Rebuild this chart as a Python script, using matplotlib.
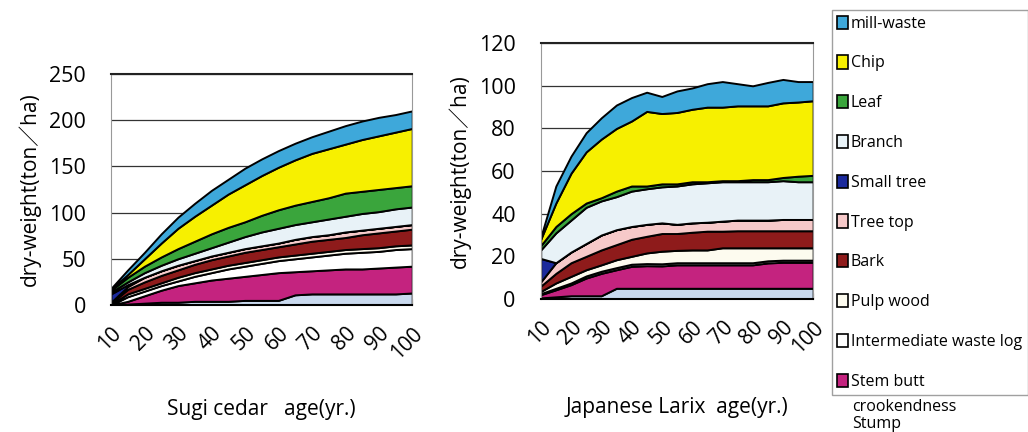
import numpy as np
import matplotlib
matplotlib.use('Agg')
import matplotlib.pyplot as plt
from matplotlib.patches import Patch

plt.rcParams['font.family'] = ['Open Sans', 'Noto Sans CJK JP', 'DejaVu Sans']

ages = [10, 15, 20, 25, 30, 35, 40, 45, 50, 55, 60, 65, 70, 75, 80, 85, 90, 95, 100]
age_ticks = [10, 20, 30, 40, 50, 60, 70, 80, 90, 100]

# layers, bottom -> top
names = ['Stump', 'Stem butt', 'Intermediate waste log', 'Pulp wood', 'Bark',
         'Tree top', 'Small tree', 'Branch', 'Leaf', 'Chip', 'mill-waste']
colors = ['#c9d9ee', '#c4237f', '#ffffff', '#fdfbef', '#8e1b1b',
          '#f6c9c9', '#1b2a9c', '#e8f2f7', '#3aa53c', '#f7f000', '#3ea8da']

# Sugi cedar (ton/ha)
sugi_stump = [0, 1, 2, 3, 3, 4, 4, 4, 5, 5, 5, 11, 12, 12, 12, 12, 12, 12, 13]
sugi_stem_butt = [0, 3, 8, 13, 18, 20, 23, 25, 26, 28, 30, 25, 25, 26, 27, 27, 28, 29, 29]
sugi_interm = [0, 5, 5, 5, 5, 7, 8, 10, 11, 12, 13, 14, 15, 16, 17, 18, 18, 19, 19]
sugi_pulp = [1, 3, 3, 3, 4, 4, 4, 4, 4, 4, 4, 4, 4, 4, 4, 4, 4, 4, 4]
sugi_bark = [1, 5, 7, 8, 8, 9, 10, 10, 11, 11, 11, 12, 13, 13, 13, 15, 16, 16, 17]
sugi_tree_top = [1, 3, 5, 5, 5, 4, 4, 4, 4, 4, 4, 5, 5, 5, 6, 5, 5, 5, 5]
sugi_small = [9, 2, 0, 0, 0, 0, 0, 0, 0, 0, 0, 0, 0, 0, 0, 0, 0, 0, 0]
sugi_branch = [2, 3, 5, 6, 7, 8, 9, 11, 13, 15, 16, 16, 16, 17, 17, 18, 18, 19, 19]
sugi_leaf = [2, 5, 7, 9, 11, 13, 15, 16, 16, 18, 20, 21, 22, 23, 25, 24, 24, 23, 23]
sugi_chip = [1, 3, 8, 15, 22, 27, 31, 36, 40, 43, 46, 49, 52, 53, 53, 56, 58, 60, 62]
sugi_mill = [1, 5, 7, 10, 12, 14, 16, 16, 18, 18, 18, 18, 18, 19, 20, 20, 20, 19, 19]

# Japanese larix (ton/ha)
lar_stump = [0.5, 1, 1.5, 1.5, 1.5, 5, 5, 5, 5, 5, 5, 5, 5, 5, 5, 5, 5, 5, 5]
lar_stem_butt = [1.5, 3.3, 5.2, 8.3, 10.5, 8.7, 10.3, 10.6, 10.5, 11, 11, 11, 11, 11, 11, 11.9, 12.2, 12.2, 12.2]
lar_interm = [0.5, 0.7, 0.8, 1, 1, 1, 1, 1, 1, 1, 1, 1, 1, 1, 1, 1, 1, 1, 1]
lar_pulp = [1, 2.5, 3.1, 2.9, 3, 3.7, 3.7, 5, 5.9, 5.8, 6, 6, 7, 7, 7, 6.1, 5.8, 5.8, 5.8]
lar_bark = [2.5, 4.5, 6.4, 6.3, 7, 7.1, 8, 7.8, 8.3, 7.9, 8.3, 8.8, 7.8, 8, 8, 8, 8, 8, 8]
lar_tree_top = [2, 5, 5, 6, 7, 7, 6, 5.6, 5, 4.3, 4.4, 4.2, 4.7, 5, 5, 5, 5.3, 5.3, 5.3]
lar_small = [11, 0, 0, 0, 0, 0, 0, 0, 0, 0, 0, 0, 0, 0, 0, 0, 0, 0, 0]
lar_branch = [4, 14, 15, 17, 16, 15.5, 16.6, 16.7, 16.9, 18, 18.3, 18.5, 18.5, 18, 18, 18, 18.2, 17.7, 17.7]
lar_leaf = [2, 3, 3, 2, 1.5, 2.6, 2.4, 1.3, 1.4, 1, 1, 0.5, 0.5, 0.5, 1, 1, 1.5, 2.6, 3]
lar_chip = [3, 11, 19, 24, 27.5, 29.4, 30.5, 35, 33, 33.5, 34, 35, 34.5, 35.1, 34.6, 34.6, 35, 34.8, 35]
lar_mill = [1, 8, 8, 9, 10, 11, 11, 9, 8, 10.1, 10, 11, 12, 10.4, 9.4, 11, 11, 9.6, 9]

sugi = [sugi_stump, sugi_stem_butt, sugi_interm, sugi_pulp, sugi_bark, sugi_tree_top,
        sugi_small, sugi_branch, sugi_leaf, sugi_chip, sugi_mill]
larix = [lar_stump, lar_stem_butt, lar_interm, lar_pulp, lar_bark, lar_tree_top,
         lar_small, lar_branch, lar_leaf, lar_chip, lar_mill]


def draw(ax, layers, ymax, ystep, xlabel, xlabelpad):
    ax.stackplot(ages, layers, colors=colors, edgecolor='black', linewidth=1.4)
    ax.set_xlim(10, 100)
    ax.set_ylim(0, ymax)
    ax.set_yticks(np.arange(0, ymax + 1, ystep))
    ax.yaxis.grid(True, color='#333333', linewidth=0.9)
    ax.set_axisbelow(True)
    ax.tick_params(axis='y', length=0, labelsize=15.5, pad=18)
    ax.set_xticks(age_ticks)
    ax.set_xticks(ages, minor=True)
    ax.tick_params(axis='x', which='both', direction='in', length=4, labelsize=15, pad=13)
    for lab in ax.get_xticklabels():
        lab.set_rotation(45)
        lab.set_ha('right')
        lab.set_rotation_mode('anchor')
    for s in ['left', 'right']:
        ax.spines[s].set_color('#999999')
    ax.spines['top'].set_color('#222222')
    ax.spines['top'].set_linewidth(1.5)
    ax.spines['bottom'].set_linewidth(1.5)
    ax.set_ylabel('dry-weight(ton／ha)', fontsize=15, labelpad=6)
    ax.set_xlabel(xlabel, fontsize=15, labelpad=xlabelpad)


fig = plt.figure(figsize=(10.28, 4.32), dpi=100)
ax1 = fig.add_axes([0.108, 0.294, 0.293, 0.535])
ax2 = fig.add_axes([0.526, 0.308, 0.265, 0.592])
draw(ax1, sugi, 250, 50, 'Sugi cedar   age(yr.)', 26)
draw(ax2, larix, 120, 20, 'Japanese Larix  age(yr.)', 29)

# legend, top -> bottom
handles = [Patch(facecolor=colors[i], edgecolor='black', linewidth=1.2, label=names[i])
           for i in range(10, 0, -1)]
leg = fig.legend(handles=handles, loc='upper left', bbox_to_anchor=(0.809, 0.977),
                 fontsize=11.5, frameon=True, fancybox=False, edgecolor='#888888',
                 handlelength=0.7, handleheight=0.9, handletextpad=0.15,
                 labelspacing=1.48, borderpad=0.35, borderaxespad=0)
leg.get_frame().set_linewidth(1.0)
fig.text(0.829, 0.058, 'crookendness', fontsize=11.5, va='center')
fig.text(0.829, 0.018, 'Stump', fontsize=11.5, va='center')

fig.savefig('out.png', dpi=100)
